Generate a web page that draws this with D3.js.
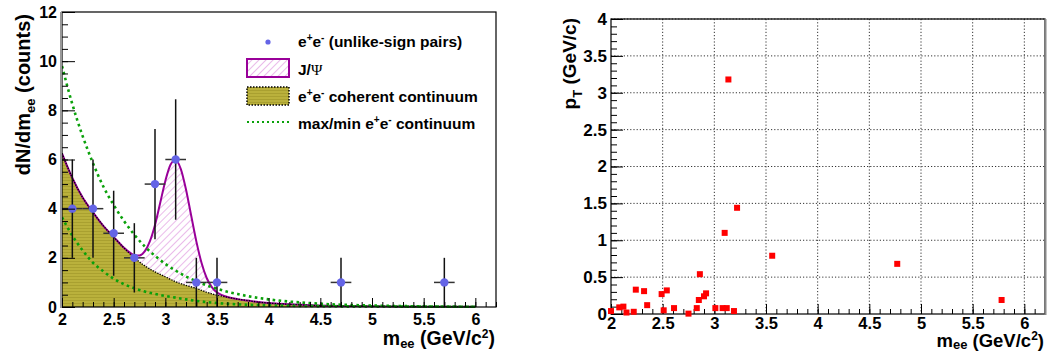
<!DOCTYPE html>
<html><head><meta charset="utf-8">
<script src="https://cdn.jsdelivr.net/npm/d3@7"></script>
<style>
body{margin:0;background:#fff}
text{font-family:"Liberation Sans",Arial,Helvetica,sans-serif;font-weight:bold;fill:#000}
</style>
</head><body>
<svg id="c" width="1047" height="351"></svg>
<script>
// ---------- data: left panel ----------
const binMass   = [2.1, 2.3, 2.5, 2.7, 2.9, 3.1, 3.3, 3.5, 4.7, 5.7];
const binCounts = [4, 4, 3, 2, 5, 6, 1, 1, 1, 1];
const binErrY   = [2, 2, 1.73, 1.41, 2.24, 2.45, 1, 1, 1, 1];
const binErrX   = [0.1, 0.1, 0.1, 0.1, 0.1, 0.1, 0.1, 0.1, 0.1, 0.1];

const contMass = [2.0,2.1,2.2,2.3,2.4,2.5,2.6,2.7,2.8,2.9,3.0,3.1,3.2,3.3,3.4,3.5,3.6,3.7,3.8,3.9,4.0,4.2,4.4,4.6,4.8,5.0,5.5,6.0];
const contVal  = [6.25,5.25,4.45,3.85,3.3,2.85,2.4,2.0,1.68,1.43,1.23,1.03,0.88,0.76,0.6,0.48,0.4,0.32,0.26,0.2,0.16,0.11,0.07,0.05,0.04,0.03,0.015,0.01];
const maxVal   = [9.8,8.25,6.95,5.85,4.9,4.15,3.5,2.94,2.47,2.08,1.75,1.48,1.24,1.05,0.88,0.74,0.62,0.53,0.44,0.37,0.31,0.22,0.16,0.11,0.08,0.06,0.025,0.01];
const minVal   = [3.65,2.9,2.3,1.8,1.45,1.15,0.93,0.76,0.63,0.53,0.45,0.38,0.31,0.25,0.2,0.16,0.13,0.11,0.09,0.08,0.07,0.05,0.04,0.03,0.025,0.02,0.015,0.01];

const jpsiMass  = [2.6,2.65,2.7,2.75,2.8,2.85,2.9,2.95,3.0,3.05,3.1,3.15,3.2,3.25,3.3,3.35,3.4,3.45,3.5,3.55,3.6];
const jpsiTotal = [2.41,2.23,2.11,2.10,2.26,2.67,3.34,4.23,5.13,5.79,5.98,5.61,4.78,3.72,2.67,1.80,1.18,0.81,0.59,0.48,0.41];

const xTickVals   = [2,2.5,3,3.5,4,4.5,5,5.5,6];
const xTickLabels = ["2","2.5","3","3.5","4","4.5","5","5.5","6"];
const yTickValsL  = [0,2,4,6,8,10,12];
const yTickLabelsL= ["0","2","4","6","8","10","12"];

// ---------- data: right panel ----------
const pairMass = [2.00,2.08,2.12,2.15,2.22,2.24,2.32,2.35,2.49,2.51,2.54,2.61,2.75,2.83,2.85,2.86,2.90,2.92,3.01,3.08,3.10,3.12,3.136,3.19,3.22,3.56,4.77,5.78];
const pairPt   = [0.04,0.09,0.10,0.02,0.03,0.33,0.31,0.12,0.27,0.05,0.32,0.08,0.005,0.08,0.19,0.54,0.24,0.28,0.08,0.08,1.10,0.08,3.18,0.04,1.44,0.79,0.68,0.19];
const yTickValsR   = [0,0.5,1,1.5,2,2.5,3,3.5,4];
const yTickLabelsR = ["0","0.5","1","1.5","2","2.5","3","3.5","4"];

// ---------- drawing ----------
const svg = d3.select("#c");
const defs = svg.append("defs");
const hatch = defs.append("pattern").attr("id","hatch").attr("patternUnits","userSpaceOnUse")
  .attr("width",5).attr("height",5).attr("patternTransform","rotate(45)");
hatch.append("rect").attr("width",5).attr("height",5).attr("fill","#fff");
hatch.append("line").attr("x1",0).attr("y1",0).attr("x2",0).attr("y2",5)
  .attr("stroke","#e29ee2").attr("stroke-width",1.4);
const olive = defs.append("pattern").attr("id","olive").attr("patternUnits","userSpaceOnUse")
  .attr("width",4).attr("height",3);
olive.append("rect").attr("width",4).attr("height",3).attr("fill","#bab13c");
olive.append("rect").attr("width",4).attr("height",1).attr("fill","#a9a030");

const YEL = "url(#olive)", PURPLE = "#990099", GREEN = "#0aa10a", BLUE = "#6464e6";

// ===== LEFT =====
const xL = d3.scaleLinear([2,6.2],[62,496]);
const yL = d3.scaleLinear([0,12],[307,12]);
const gL = svg.append("g");

const jpsiPts = jpsiMass.map((m,i)=>[m,jpsiTotal[i]]);
const contPts = contMass.map((m,i)=>[m,contVal[i]]);
const totalPts = contPts.filter(p=>p[0]<jpsiMass[0]).concat(jpsiPts, contPts.filter(p=>p[0]>jpsiMass[jpsiMass.length-1]));

const area = d3.area().x(d=>xL(d[0])).y0(yL(0)).y1(d=>yL(d[1])).curve(d3.curveMonotoneX);
const line = d3.line().x(d=>xL(d[0])).y(d=>yL(d[1])).curve(d3.curveMonotoneX);

gL.append("path").attr("d",area(totalPts)).attr("fill","url(#hatch)");
gL.append("path").attr("d",area(contPts)).attr("fill",YEL);
gL.append("path").attr("d",line(totalPts)).attr("fill","none").attr("stroke",PURPLE).attr("stroke-width",2);
gL.append("path").attr("d",line(contPts)).attr("fill","none").attr("stroke","#000").attr("stroke-width",1.3).attr("stroke-dasharray","1.3,1.3");
gL.append("path").attr("d",line(contMass.map((m,i)=>[m,maxVal[i]]))).attr("fill","none").attr("stroke",GREEN).attr("stroke-width",2.6).attr("stroke-dasharray","2.6,3.4");
gL.append("path").attr("d",line(contMass.map((m,i)=>[m,minVal[i]]))).attr("fill","none").attr("stroke",GREEN).attr("stroke-width",2.6).attr("stroke-dasharray","2.6,3.4");

// error bars
binMass.forEach((m,i)=>{
  gL.append("line").attr("x1",xL(m)).attr("x2",xL(m))
    .attr("y1",yL(Math.max(0,binCounts[i]-binErrY[i]))).attr("y2",yL(binCounts[i]+binErrY[i]))
    .attr("stroke","#111").attr("stroke-width",1.5);
  gL.append("line").attr("x1",xL(m-binErrX[i])).attr("x2",xL(m+binErrX[i]))
    .attr("y1",yL(binCounts[i])).attr("y2",yL(binCounts[i]))
    .attr("stroke","#333").attr("stroke-width",1.5);
});
gL.selectAll("circle.pt").data(binMass).join("circle").attr("class","pt")
  .attr("cx",d=>xL(d)).attr("cy",(d,i)=>yL(binCounts[i])).attr("r",4.2).attr("fill",BLUE);

// axes left
function styleAxis(g, fs){ g.select(".domain").remove(); g.selectAll("line").attr("stroke","#000");
  g.selectAll("text").style("font-size",fs+"px").style("font-weight","bold").attr("fill","#000"); }
gL.append("g").attr("transform","translate(0,307)")
  .call(d3.axisBottom(xL).tickValues(d3.range(2,6.21,0.1)).tickSize(-5).tickFormat(""))
  .call(g=>styleAxis(g,16));
gL.append("g").attr("transform","translate(0,307)")
  .call(d3.axisBottom(xL).tickValues(xTickVals).tickSize(-9).tickPadding(7).tickFormat((d,i)=>xTickLabels[i]))
  .call(g=>styleAxis(g,16));
gL.append("g").attr("transform","translate(62,0)")
  .call(d3.axisLeft(yL).tickValues(d3.range(0,12.01,0.5)).tickSize(-6).tickFormat(""))
  .call(g=>styleAxis(g,16));
gL.append("g").attr("transform","translate(62,0)")
  .call(d3.axisLeft(yL).tickValues(yTickValsL).tickSize(-13).tickPadding(5).tickFormat((d,i)=>yTickLabelsL[i]))
  .call(g=>styleAxis(g,16));
gL.append("rect").attr("x",62).attr("y",12).attr("width",434).attr("height",295)
  .attr("fill","none").attr("stroke","#000").attr("stroke-width",1.2);
gL.append("line").attr("x1",61).attr("x2",61).attr("y1",12).attr("y2",308).attr("stroke","#999").attr("stroke-width",2);

// titles left
const tY = gL.append("text").attr("transform","translate(30,14) rotate(-90)").attr("text-anchor","end").style("font-size","20px");
tY.append("tspan").text("dN/dm");
tY.append("tspan").attr("dy",5).style("font-size","13px").text("ee");
tY.append("tspan").attr("dy",-5).text(" (counts)");
const tX = gL.append("text").attr("x",495).attr("y",345).attr("text-anchor","end").style("font-size","19.5px");
tX.append("tspan").text("m");
tX.append("tspan").attr("dy",3).style("font-size","13px").text("ee");
tX.append("tspan").attr("dy",-3).text(" (GeV/c");
tX.append("tspan").attr("dy",-7).style("font-size","12px").text("2");
tX.append("tspan").attr("dy",7).text(")");

// legend
const lg = gL.append("g");
lg.append("circle").attr("cx",268).attr("cy",42).attr("r",2.6).attr("fill",BLUE);
lg.append("rect").attr("x",247).attr("y",59).attr("width",42).attr("height",18).attr("fill","url(#hatch)").attr("stroke",PURPLE).attr("stroke-width",2);
lg.append("rect").attr("x",247).attr("y",87).attr("width",42).attr("height",18).attr("fill",YEL).attr("stroke","#000").attr("stroke-width",1.5).attr("stroke-dasharray","1.5,1.5");
lg.append("line").attr("x1",247).attr("x2",290).attr("y1",122).attr("y2",122).attr("stroke",GREEN).attr("stroke-width",2).attr("stroke-dasharray","2,3");
function ee(t){ t.append("tspan").text("e"); t.append("tspan").attr("dy",-6).style("font-size","10px").text("+");
  t.append("tspan").attr("dy",6).text("e"); t.append("tspan").attr("dy",-6).style("font-size","10px").text("-"); }
let t1 = lg.append("text").attr("x",298).attr("y",47).style("font-size","15.5px");
ee(t1); t1.append("tspan").attr("dy",6).text(" (unlike-sign pairs)");
let t2 = lg.append("text").attr("x",298).attr("y",75).style("font-size","15.5px");
t2.append("tspan").text("J/");
t2.append("tspan").style("font-family","'Liberation Serif','DejaVu Serif',serif").style("font-weight","normal").text("\u03A8");
let t3 = lg.append("text").attr("x",298).attr("y",102).style("font-size","15.5px");
ee(t3); t3.append("tspan").attr("dy",6).text(" coherent continuum");
let t4 = lg.append("text").attr("x",298).attr("y",129).style("font-size","15.5px");
t4.append("tspan").text("max/min ");
ee(t4); t4.append("tspan").attr("dy",6).text(" continuum");

// ===== RIGHT =====
const xR = d3.scaleLinear([2,6.2],[611,1045]);
const yR = d3.scaleLinear([0,4],[314,19]);
const gR = svg.append("g");
// grid
gR.selectAll("line.gx").data(xTickVals.slice(1)).join("line").attr("class","gx")
  .attr("x1",d=>xR(d)).attr("x2",d=>xR(d)).attr("y1",19).attr("y2",314)
  .attr("stroke","#333").attr("stroke-width",1).attr("stroke-dasharray","1.2,2");
gR.selectAll("line.gy").data(yTickValsR.slice(1)).join("line").attr("class","gy")
  .attr("x1",611).attr("x2",1045).attr("y1",d=>yR(d)).attr("y2",d=>yR(d))
  .attr("stroke","#333").attr("stroke-width",1).attr("stroke-dasharray","1.2,2");
gR.append("g").attr("transform","translate(0,314)")
  .call(d3.axisBottom(xR).tickValues(d3.range(2,6.21,0.1)).tickSize(-5).tickFormat(""))
  .call(g=>styleAxis(g,17));
gR.append("g").attr("transform","translate(0,314)")
  .call(d3.axisBottom(xR).tickValues(xTickVals).tickSize(-10).tickPadding(3).tickFormat((d,i)=>xTickLabels[i]))
  .call(g=>styleAxis(g,16.5));
gR.append("g").attr("transform","translate(611,0)")
  .call(d3.axisLeft(yR).tickValues(d3.range(0,4.01,0.1)).tickSize(-6).tickFormat(""))
  .call(g=>styleAxis(g,17));
gR.append("g").attr("transform","translate(611,0)")
  .call(d3.axisLeft(yR).tickValues(yTickValsR).tickSize(-12).tickPadding(4).tickFormat((d,i)=>yTickLabelsR[i]))
  .call(g=>styleAxis(g,17));
gR.append("rect").attr("x",611).attr("y",19).attr("width",434).attr("height",295)
  .attr("fill","none").attr("stroke","#000").attr("stroke-width",1.2);
gR.append("line").attr("x1",1045.5).attr("x2",1045.5).attr("y1",19).attr("y2",315).attr("stroke","#888").attr("stroke-width",2);
gR.selectAll("rect.sq").data(pairMass).join("rect").attr("class","sq")
  .attr("x",d=>xR(d)-3).attr("y",(d,i)=>yR(pairPt[i])-3).attr("width",6).attr("height",6).attr("fill","#f00");

const rY = gR.append("text").attr("transform","translate(576,18) rotate(-90)").attr("text-anchor","end").style("font-size","19px");
rY.append("tspan").text("p");
rY.append("tspan").attr("dy",6).style("font-size","13px").text("T");
rY.append("tspan").attr("dy",-6).text(" (GeV/c)");
const rX = gR.append("text").attr("x",1044).attr("y",347).attr("text-anchor","end").style("font-size","18.5px");
rX.append("tspan").text("m");
rX.append("tspan").attr("dy",2).style("font-size","13px").text("ee");
rX.append("tspan").attr("dy",-2).text(" (GeV/c");
rX.append("tspan").attr("dy",-7).style("font-size","12px").text("2");
rX.append("tspan").attr("dy",7).text(")");
</script>
</body></html>
